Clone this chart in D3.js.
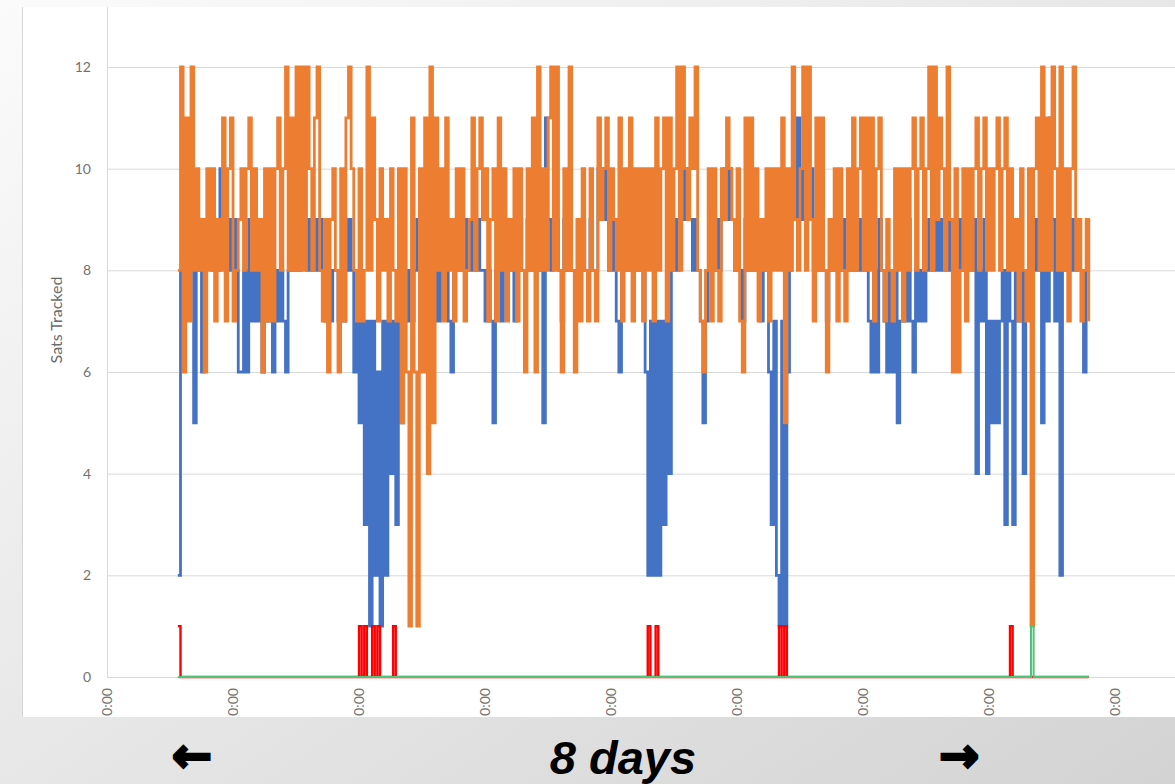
<!DOCTYPE html>
<html>
<head>
<meta charset="utf-8">
<script src="https://cdnjs.cloudflare.com/ajax/libs/d3/7.8.5/d3.min.js"></script>
<style>
  body { margin: 0; overflow: hidden; }
</style>
</head>
<body>
<script>
// y axis ticks and x axis (one label per day, in hours)
var yTicks = [0, 2, 4, 6, 8, 10, 12];
var dayTicks = [0, 24, 48, 72, 96, 120, 144, 168, 192];
var dayLabels = ["0:00", "0:00", "0:00", "0:00", "0:00", "0:00", "0:00", "0:00", "0:00"];

// samples every half hour, first one at 13:30 on day 0
var startHour = 13.5;
var stepHours = 0.5;

// sats tracked, receiver 2 (orange)
var orange = [
  8,12,6,11,7,12,8,10,8,9,6,10,   8,10,7,9,8,11,7,10,11,7,8,9,
  10,8,10,11,8,10,8,9,6,10,7,10,  7,10,11,8,10,12,8,11,8,12,8,12,
  8,12,10,8,11,12,8,7,9,6,9,10,   8,6,10,7,11,12,10,8,7,10,7,8,
  12,8,11,9,7,10,8,9,7,10,8,7,    10,5,10,6,1,11,6,1,10,6,11,4,
  12,5,11,8,10,7,11,8,9,7,10,8,   10,7,8,9,11,8,10,11,9,10,7,9,
  10,7,11,8,10,7,9,8,10,7,10,8,   6,10,8,11,6,12,8,10,8,11,12,8,
  12,8,6,10,8,12,8,6,9,7,10,8,    7,10,8,7,11,9,10,11,8,10,9,8,
  11,7,10,8,11,7,10,8,10,7,10,8,  10,7,11,8,10,11,7,11,8,10,12,8,
  12,10,9,11,10,12,8,7,6,8,10,7,  10,8,7,10,9,11,10,9,8,10,7,6,
  11,8,11,8,10,7,9,8,10,7,10,8,   10,8,11,5,10,8,12,9,8,10,12,8,
  12,9,7,11,8,11,8,6,9,8,10,7,    10,8,7,10,8,11,8,10,11,8,11,8,
  11,7,10,11,8,7,9,8,7,10,8,10,   7,10,8,10,11,8,10,11,8,10,12,8,
  12,9,11,10,8,12,9,6,10,6,8,10,  7,10,8,10,11,8,10,11,8,10,8,10,
  11,8,10,11,8,10,8,9,7,10,8,7,   10,1,10,11,8,12,8,11,8,12,10,8,
  12,8,10,7,10,12,8,9,7,8,9,7
];

// sats tracked, receiver 1 (blue)
var blue = [
  2,8,9,8,9,8,5,9,8,6,8,9,        9,8,9,8,10,9,8,9,8,9,8,6,
  6,8,6,9,7,8,7,8,6,9,7,8,        6,8,7,8,7,6,8,9,8,9,8,9,
  9,8,9,8,9,8,9,8,7,8,7,8,        8,7,8,7,8,9,8,6,8,5,7,3,
  7,1,7,2,6,1,7,2,7,4,7,3,        7,5,8,7,8,7,8,9,8,7,8,7,
  8,7,8,7,8,9,8,7,6,8,9,8,        9,8,9,8,9,8,9,8,8,7,8,7,
  5,8,9,7,8,9,8,9,7,8,9,8,        8,9,8,9,8,9,8,5,11,9,8,9,
  9,8,7,9,8,9,8,8,8,8,9,8,        8,9,8,8,10,9,10,9,8,9,8,7,
  6,8,9,8,9,8,9,8,9,8,6,2,        7,2,7,2,7,3,7,4,8,9,8,9,
  9,10,9,9,8,9,8,7,5,7,8,9,       8,9,8,9,10,9,10,9,8,9,8,7,
  9,8,9,8,9,8,7,8,9,6,3,7,        2,1,7,1,6,8,10,9,11,9,10,9,
  9,10,8,9,8,9,8,7,8,9,8,9,       8,9,8,9,8,9,8,9,8,9,8,7,
  6,8,6,9,8,7,6,8,6,8,5,7,        8,7,9,7,6,8,7,8,7,8,9,8,
  8,9,8,9,8,9,8,8,9,8,9,8,        8,9,8,9,4,8,7,9,4,7,5,7,
  5,7,8,3,8,7,3,8,7,8,4,8,        8,9,8,9,8,5,8,7,11,9,7,8,
  2,8,9,8,9,8,9,8,8,6,8,9
];

// hours where the flags are raised (value 1), otherwise 0
var redHours = [13.5, 48, 49, 50.5, 51.5, 54.5, 103, 104.5, 128, 129, 172];
var greenHours = [176];

var screen = {width: 1175, height: 784};
var plot = {left: 107, right: 1175, top: 7, bottom: 677};

var svg = d3.select("body")
            .append("svg")
            .attr("width", screen.width)
            .attr("height", screen.height);

// slide background
var grad = svg.append("defs")
              .append("linearGradient")
              .attr("id", "slideBg")
              .attr("x1", "0%").attr("y1", "0%")
              .attr("x2", "100%").attr("y2", "100%");
grad.append("stop").attr("offset", "0%").attr("stop-color", "#fbfbfb");
grad.append("stop").attr("offset", "100%").attr("stop-color", "#d3d3d3");

svg.append("rect")
   .attr("width", screen.width)
   .attr("height", screen.height)
   .attr("fill", "url(#slideBg)");

// white chart area (cropped screenshot)
svg.append("rect")
   .attr("x", 22)
   .attr("y", 7)
   .attr("width", screen.width - 22 + 2)
   .attr("height", 710)
   .attr("fill", "white");

svg.append("line")
   .attr("x1", 22.5).attr("x2", 22.5)
   .attr("y1", 7).attr("y2", 717)
   .attr("stroke", "#d6d6d6");

var x = d3.scaleLinear()
          .domain([0, 192])
          .range([107, 1115]);

var y = d3.scaleLinear()
          .domain([0, 12])
          .range([677, 67]);

var font = "Lato, 'Liberation Sans', sans-serif";

// y axis with gridlines
var yAxis = d3.axisLeft(y)
              .tickValues(yTicks)
              .tickSize(-(plot.right - plot.left))
              .tickPadding(16);

var gy = svg.append("g")
            .attr("transform", "translate(" + plot.left + ",0)")
            .call(yAxis);

gy.select(".domain").remove();
gy.selectAll(".tick line")
  .attr("stroke", "#d9d9d9");
gy.selectAll(".tick text")
  .attr("fill", "#727272")
  .attr("font-size", 14)
  .attr("font-family", font);

svg.append("line")
   .attr("x1", plot.left + 0.5).attr("x2", plot.left + 0.5)
   .attr("y1", plot.top).attr("y2", y(0))
   .attr("stroke", "#d9d9d9");

// x axis, rotated day labels
var xAxis = d3.axisBottom(x)
              .tickValues(dayTicks)
              .tickSize(0)
              .tickFormat(function(d, i) {return dayLabels[i];});

var gx = svg.append("g")
            .attr("transform", "translate(0," + y(0) + ")")
            .call(xAxis);

gx.select(".domain").remove();
gx.selectAll(".tick text")
  .attr("transform", "rotate(-90)")
  .attr("x", -11)
  .attr("y", 0)
  .attr("dy", "0.35em")
  .attr("text-anchor", "end")
  .attr("fill", "#727272")
  .attr("font-size", 14)
  .attr("font-family", font);

svg.append("text")
   .attr("transform", "translate(62,320) rotate(-90)")
   .attr("text-anchor", "middle")
   .attr("fill", "#6a6a6a")
   .attr("font-size", 16)
   .attr("font-family", font)
   .text("Sats Tracked");

// flag series from the event hours
var red = orange.map(function() {return 0;});
var green = orange.map(function() {return 0;});
redHours.forEach(function(h) {red[Math.round((h - startHour) / stepHours)] = 1;});
greenHours.forEach(function(h) {green[Math.round((h - startHour) / stepHours)] = 1;});

// each reading held until the next one -> vertical jumps like the dense original
var line = d3.line()
             .x(function(d, i) {return x(startHour + i * stepHours);})
             .y(function(d) {return y(d);})
             .curve(d3.curveStepAfter);

var series = [
  {values: blue, color: "#4472c4", width: 2.8},
  {values: orange, color: "#ed7d31", width: 2.8},
  {values: red, color: "#ff0000", width: 2.4},
  {values: green, color: "#4cc47a", width: 2}
];

svg.append("g")
   .selectAll("path")
   .data(series)
   .enter()
   .append("path")
   .attr("d", function(d) {return line(d.values);})
   .attr("fill", "none")
   .attr("stroke", function(d) {return d.color;})
   .attr("stroke-width", function(d) {return d.width;})
   .attr("stroke-linejoin", "miter");

// caption below the chart
svg.append("text")
   .attr("x", 192)
   .attr("y", 772)
   .attr("text-anchor", "middle")
   .attr("font-family", "'DejaVu Sans', sans-serif")
   .attr("font-weight", "bold")
   .attr("font-size", 48)
   .attr("fill", "black")
   .attr("stroke", "black")
   .attr("stroke-width", 2.5)
   .text("\u2190");

svg.append("text")
   .attr("x", 959)
   .attr("y", 772)
   .attr("text-anchor", "middle")
   .attr("font-family", "'DejaVu Sans', sans-serif")
   .attr("font-weight", "bold")
   .attr("font-size", 48)
   .attr("fill", "black")
   .attr("stroke", "black")
   .attr("stroke-width", 2.5)
   .text("\u2192");

svg.append("text")
   .attr("x", 623)
   .attr("y", 774)
   .attr("text-anchor", "middle")
   .attr("font-family", "'Liberation Sans', Arial, sans-serif")
   .attr("font-weight", "bold")
   .attr("font-style", "italic")
   .attr("font-size", 47)
   .attr("fill", "black")
   .text("8 days");
</script>
</body>
</html>
